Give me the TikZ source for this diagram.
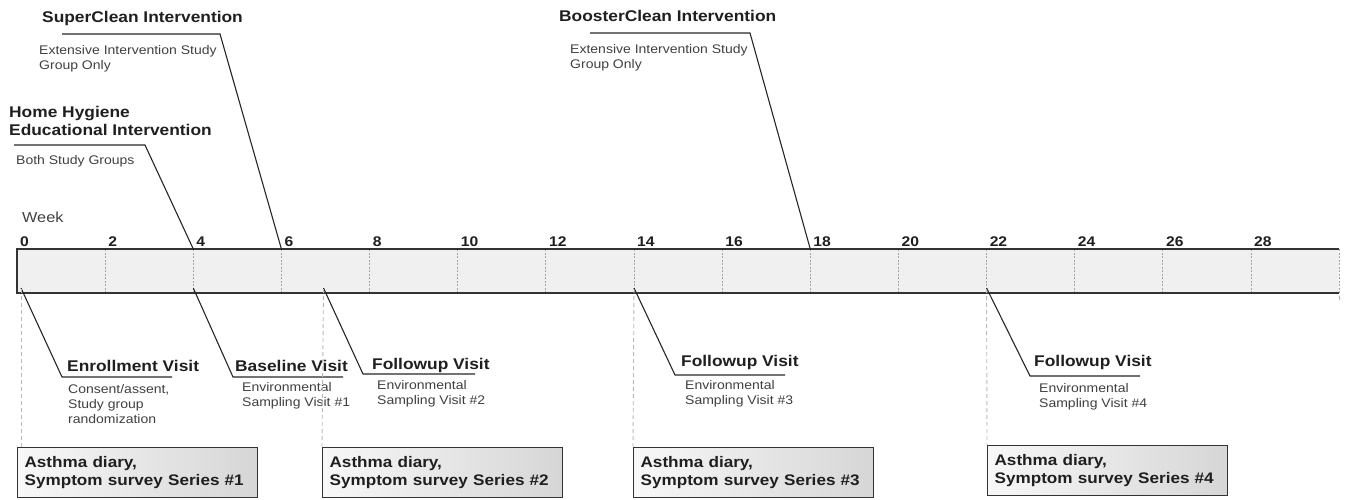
\documentclass[tikz,border=0pt]{standalone}
\usepackage{fontspec}
\setmainfont[FakeStretch=1.12]{Liberation Sans}

\begin{document}
\begin{tikzpicture}[x=1pt, y=-1pt, every node/.style={inner sep=0pt, text=black!88},
	head/.style={font=\bfseries\fontsize{15.5}{18}\selectfont, anchor=north west, align=left},
	note/.style={font=\fontsize{12.5}{15}\selectfont, anchor=north west, align=left, text=black!75},
	wk/.style={font=\bfseries\fontsize{14}{16}\selectfont, anchor=base west},
	leader/.style={black!85, line width=1.1pt},
	guide/.style={gray!55, dash pattern=on 4pt off 3pt, line width=0.9pt},
	series/.style={draw=black!80, line width=1.2pt, left color=gray!6, right color=gray!32, minimum width=240pt, minimum height=50pt, text width=226pt, inner xsep=7pt, anchor=north west, align=left, font=\bfseries\fontsize{15.3}{17.5}\selectfont}]
	\useasboundingbox (0,0) rectangle (1346,499);
	\foreach \w in {0,...,30} {\coordinate (w\w) at ({17+\w*44.07},249); \coordinate (b\w) at ({17+\w*44.07},293);}
	% time bar
	\fill[gray!12] (w0) rectangle (b30);
	\foreach \w in {2,4,...,30} {\draw[gray!70, dash pattern=on 2pt off 1.5pt, line width=0.9pt] (w\w) -- (b\w);}
	\draw[black!80, line width=1.6pt] (w30) -- (w0) -- (b0) -- (b30);
	\draw[gray!70, line width=0.8pt] ([yshift=-3pt]b30) -- ++(0.8,4);
	\node[font=\fontsize{14.5}{16}\selectfont, anchor=north west, text=black!75] (week) at (22,212) {Week};
	\foreach \w in {0,2,...,28} {\node[wk] (n\w) at ([xshift=3pt,yshift=3pt]w\w) {\w};}
	% interventions
	\node[head] (hyg) at (9,106) {Home Hygiene\\Educational Intervention};
	\node[note] (hygnote) at (16,155) {Both Study Groups};
	\coordinate (hygA) at (14,145); \coordinate (hygB) at (145,145);
	\draw[leader] (hygA) -- (hygB) -- (w4);
	\node[head] (sup) at (42,11) {SuperClean Intervention};
	\node[note] (supnote) at (39,45) {Extensive Intervention Study\\Group Only};
	\coordinate (supA) at (62,34); \coordinate (supB) at (220,34);
	\draw[leader] (supA) -- (supB) -- (w6);
	\node[head] (boo) at (559,10) {BoosterClean Intervention};
	\node[note] (boonote) at (570,44) {Extensive Intervention Study\\Group Only};
	\coordinate (booA) at (590,33); \coordinate (booB) at (750,33);
	\draw[leader] (booA) -- (booB) -- (w18);
	% visits
	\node[head] (enr) at (67,360) {Enrollment Visit};
	\node[note] (enrnote) at (68,384) {Consent/assent,\\Study group\\randomization};
	\coordinate (enrA) at (62,377); \coordinate (enrB) at (172,377);
	\draw[leader] ([xshift=4pt,yshift=5pt]b0) -- (enrA) -- (enrB);
	\node[head] (bas) at (235,360) {Baseline Visit};
	\node[note] (basnote) at (242,382) {Environmental\\Sampling Visit \#1};
	\coordinate (basA) at (233,377); \coordinate (basB) at (343,377);
	\draw[leader] ([yshift=5pt]b4) -- (basA) -- (basB);
	\node[head] (fu2) at (372,358) {Followup Visit};
	\node[note] (fu2note) at (377,380) {Environmental\\Sampling Visit \#2};
	\coordinate (fu2A) at (363,374); \coordinate (fu2B) at (475,374);
	\draw[leader] ([xshift=-2pt,yshift=5pt]b7) -- (fu2A) -- (fu2B);
	\node[head] (fu3) at (681,355) {Followup Visit};
	\node[note] (fu3note) at (685,380) {Environmental\\Sampling Visit \#3};
	\coordinate (fu3A) at (675,375); \coordinate (fu3B) at (785,375);
	\draw[leader] ([yshift=5pt]b14) -- (fu3A) -- (fu3B);
	\node[head] (fu4) at (1034,355) {Followup Visit};
	\node[note] (fu4note) at (1039,383) {Environmental\\Sampling Visit \#4};
	\coordinate (fu4A) at (1030,376); \coordinate (fu4B) at (1140,376);
	\draw[leader] ([yshift=5pt]b22) -- (fu4A) -- (fu4B);
	% diary series
	\node[series] (ser1) at (17,447) {Asthma diary,\\Symptom survey Series \#1};
	\node[series] (ser2) at (322,447) {Asthma diary,\\Symptom survey Series \#2};
	\node[series] (ser3) at (633,447) {Asthma diary,\\Symptom survey Series \#3};
	\node[series] (ser4) at (987,445) {Asthma diary,\\Symptom survey Series \#4};
	\draw[guide] ([xshift=4pt,yshift=4pt]b0) -- ([xshift=4pt]ser1.north west);
	\draw[guide] ([xshift=-2pt,yshift=4pt]b7) -- (ser2.north west);
	\draw[guide] ([yshift=4pt]b14) -- (ser3.north west);
	\draw[guide] ([yshift=4pt]b22) -- (ser4.north west);
\end{tikzpicture}
\end{document}
